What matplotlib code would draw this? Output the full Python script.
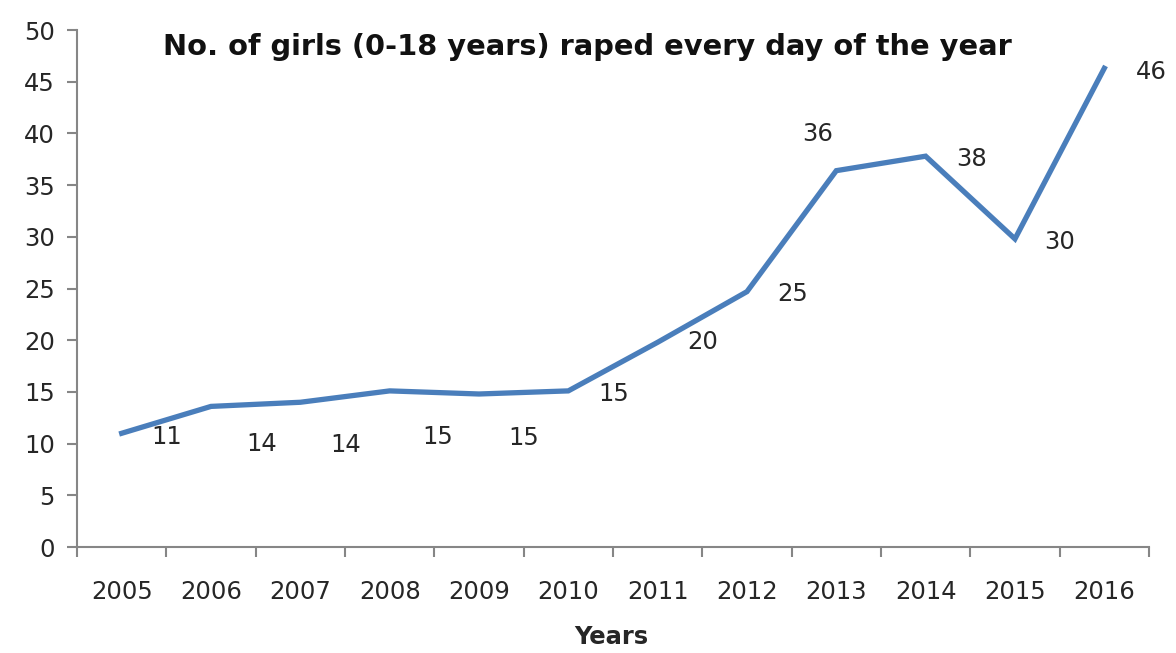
import numpy as np
import matplotlib.pyplot as plt

# Data
years = ['2005', '2006', '2007', '2008', '2009', '2010',
         '2011', '2012', '2013', '2014', '2015', '2016']
girls_per_day = [11.0, 13.6, 14.0, 15.1, 14.8, 15.1,
                 19.8, 24.7, 36.4, 37.8, 29.8, 46.3]
point_labels = ['11', '14', '14', '15', '15', '15',
                '20', '25', '36', '38', '30', '46']

# Label offsets (pixels) as placed in the original
label_dx = [45, 51, 45, 48, 45, 45, 45, 46, -19, 46, 45, 47]
label_dy = [-4, -38, -43, -46, -44, -3, 0, -2, 37, -3, -3, -4]

line_color = '#4A7EBB'
axis_color = '#868686'
text_color = '#262626'

fig = plt.figure(figsize=(11.76, 6.53), dpi=100)
ax = fig.add_axes([0.0655, 0.1623, 0.9115, 0.7917])

x = np.arange(len(years))
ax.plot(x, girls_per_day, color=line_color, linewidth=3.8, solid_joinstyle='miter')

for xi, yi, lab, dx, dy in zip(x, girls_per_day, point_labels, label_dx, label_dy):
    ax.annotate(lab, (xi, yi), xytext=(dx, dy), textcoords='offset pixels',
                ha='center', va='center', fontsize=17.5, color=text_color)

ax.set_xlim(-0.5, len(years) - 0.5)
ax.set_ylim(0, 50)
ax.set_yticks(np.arange(0, 51, 5))

# Category labels centred, tick marks between categories
ax.set_xticks(x)
ax.set_xticklabels(years)
ax.set_xticks(np.arange(-0.5, len(years), 1.0), minor=True)
ax.tick_params(axis='x', which='major', length=0, pad=24)
ax.tick_params(axis='x', which='minor', length=7, width=1.5, color=axis_color)
ax.tick_params(axis='y', length=7, width=1.5, color=axis_color, pad=9)
ax.tick_params(labelsize=17.5, labelcolor=text_color)

for side in ['top', 'right']:
    ax.spines[side].set_visible(False)
for side in ['left', 'bottom']:
    ax.spines[side].set_color(axis_color)
    ax.spines[side].set_linewidth(1.5)

fig.text(0.4995, 0.928, 'No. of girls (0-18 years) raped every day of the year',
         ha='center', va='center', fontsize=20.8, fontweight='bold', color='#111111')
fig.text(0.52, 0.025, 'Years', ha='center', va='center',
         fontsize=17.5, fontweight='bold', color=text_color)

fig.savefig('out.png', dpi=100)
